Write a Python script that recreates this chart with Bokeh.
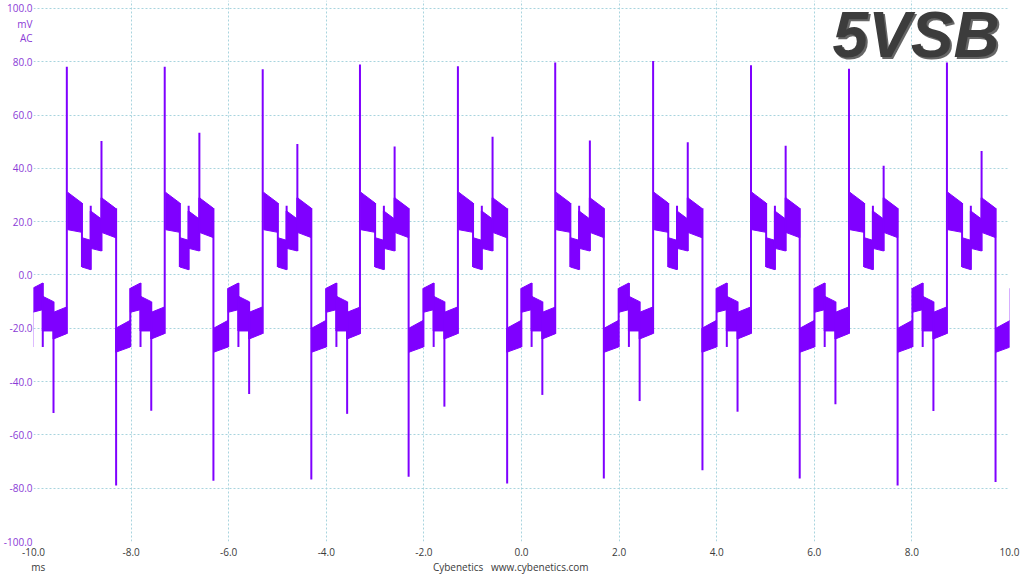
from bokeh.plotting import figure
from bokeh.models import (Range1d, FixedTicker, PrintfTickFormatter, Label, ColumnDataSource,
                          LinearAxis)
from bokeh.embed import file_html
from bokeh.resources import INLINE

# ---------------- data ----------------
x_ticks = [-10, -8, -6, -4, -2, 0, 2, 4, 6, 8, 10]          # ms
y_ticks = [-100, -80, -60, -40, -20, 0, 20, 40, 60, 80, 100]  # mV
y_unit_labels = {94: "mV", 89: "AC"}                          # unit text under the 100.0 tick
footer_labels = {-990: "ms", -22: "Cybenetics\u00a0\u00a0\u00a0www.cybenetics.com"}  # position in 1/100 ms

# start (rising edge) of every switching cycle, ms (first one is before the window)
cycle_start_ms = [-11.32, -9.317, -7.311, -5.303, -3.310, -1.303,
                  0.691, 2.697, 4.703, 6.711, 8.718]

# step plateaus inside one cycle (time after the rising edge, ms) and their noise envelope, mV
seg_start_ms = [0.02, 0.31, 0.49, 0.71, 1.00, 1.30, 1.51, 1.73]
seg_end_ms = [0.31, 0.49, 0.71, 1.00, 1.30, 1.51, 1.73, 2.00]
seg_top_start = [31, 14, 24, 29, -20, -5, -8, -14]
seg_top_end = [27, 13, 21, 25, -17, -3, -10, -12]
seg_bot_start = [17, 3, 10, 16, -29, -14, -21, -24]
seg_bot_end = [16, 2, 9, 14, -27, -13, -21, -22]

# rising-edge spikes (cycles 1..10)
rise_ms = cycle_start_ms[1:]
rise_peak_mv = [78.1, 78.1, 77.2, 79.0, 78.3, 79.7, 80.3, 78.7, 77.4, 79.7]

# falling-edge spikes
fall_ms = [-8.307, -6.313, -4.307, -2.313, -0.294, 1.687, 3.708, 5.701, 7.707, 9.714]
fall_min_mv = [-79.0, -77.2, -76.7, -75.7, -78.2, -76.4, -73.3, -76.4, -79.0, -77.7]

# secondary positive spike (0.71 ms after rise), cycles 1..10
pos_spike_mv = [50.3, 53.4, 49.2, 48.2, 51.9, 50.5, 49.8, 48.5, 41.0, 46.5]
# secondary negative spike (1.73 ms after rise), cycles 0..9
neg_spike_mv = [-51.8, -50.9, -44.7, -52.1, -49.4, -45.0, -47.3, -51.3, -48.5, -51.0]
# small spikes of every cycle
small_pos_ms, small_pos_mv = 0.49, 26
small_neg_ms, small_neg_mv = 1.51, -27
pos_spike_phase_ms = 0.71
neg_spike_phase_ms = 1.73

TRACE = "#7f00ff"
YLAB = "#8a3ad6"
XLAB = "#3a3a3a"
GRID = "#a8d4de"
FONT = "Open Sans"

# the frame reaches the top of the canvas; the 100 mV grid line sits 8 px below it
p = figure(width=1024, height=576, output_backend="svg", toolbar_location=None,
           x_range=Range1d(-10, 10), y_range=Range1d(-100, 103),
           min_border_left=32, min_border_right=15, min_border_top=0, min_border_bottom=34)
p.outline_line_color = None
p.background_fill_color = "white"
p.border_fill_color = "white"

# grid
p.xgrid.ticker = FixedTicker(ticks=x_ticks)
p.ygrid.ticker = FixedTicker(ticks=y_ticks)
for g in (p.xgrid, p.ygrid):
    g.grid_line_color = GRID
    g.grid_line_dash = "2 2"
    g.grid_line_width = 1

# axes
p.xaxis.ticker = FixedTicker(ticks=x_ticks)
p.yaxis.ticker = FixedTicker(ticks=y_ticks + list(y_unit_labels.keys()))
p.xaxis.formatter = PrintfTickFormatter(format="%.1f")
p.yaxis.formatter = PrintfTickFormatter(format="%.1f")
p.yaxis.major_label_overrides = y_unit_labels

p.extra_x_ranges = {"footer": Range1d(-1000, 1000)}
footer = LinearAxis(x_range_name="footer", ticker=FixedTicker(ticks=list(footer_labels.keys())),
                    major_label_overrides=footer_labels)
p.add_layout(footer, "below")

for ax in (p.xaxis + p.yaxis):
    ax.axis_line_color = None
    ax.major_tick_line_color = None
    ax.minor_tick_line_color = None
    ax.major_tick_out = 0
    ax.major_tick_in = 0
    ax.minor_tick_out = 0
    ax.minor_tick_in = 0
    ax.major_label_text_font = FONT
    ax.major_label_text_font_size = "10px"
for ax in p.xaxis:
    ax.major_label_text_color = XLAB
p.yaxis.major_label_text_color = YLAB
p.xaxis[0].major_label_standoff = 6
footer.major_label_standoff = 1
p.yaxis.major_label_standoff = 1

# plateau bands
xs, ys = [], []
for t0 in cycle_start_ms:
    for k in range(len(seg_start_ms)):
        xa, xb = t0 + seg_start_ms[k], t0 + seg_end_ms[k]
        xs.append([xa, xb, xb, xa])
        ys.append([seg_top_start[k], seg_top_end[k], seg_bot_end[k], seg_bot_start[k]])
p.patches(xs, ys, fill_color=TRACE, line_color=TRACE, line_width=1)

# edges, step transitions and spikes
sx, sy0, sy1 = [], [], []
for t, pk in zip(rise_ms, rise_peak_mv):
    sx.append(t); sy0.append(seg_bot_end[7]); sy1.append(pk)
for t, mn in zip(fall_ms, fall_min_mv):
    sx.append(t); sy0.append(seg_top_end[3]); sy1.append(mn)
for t0, v in zip(cycle_start_ms[1:], pos_spike_mv):
    sx.append(t0 + pos_spike_phase_ms); sy0.append(seg_bot_start[3]); sy1.append(v)
for t0, v in zip(cycle_start_ms[:10], neg_spike_mv):
    sx.append(t0 + neg_spike_phase_ms); sy0.append(seg_top_start[7]); sy1.append(v)
for t0 in cycle_start_ms:
    sx.append(t0 + small_pos_ms); sy0.append(seg_bot_start[2]); sy1.append(small_pos_mv)
    sx.append(t0 + small_neg_ms); sy0.append(seg_top_start[6]); sy1.append(small_neg_mv)
    for k in (0, 1, 2, 4, 5, 6):
        sx.append(t0 + seg_end_ms[k])
        sy0.append(min(seg_bot_end[k], seg_bot_start[k + 1]))
        sy1.append(max(seg_top_end[k], seg_top_start[k + 1]))
src = ColumnDataSource(dict(x=sx, y0=sy0, y1=sy1))
p.segment(x0="x", y0="y0", x1="x", y1="y1", source=src, line_color=TRACE, line_width=2)

# big channel name
p.add_layout(Label(x=9.84, y=89.2, text="5VSB", text_align="right", text_baseline="alphabetic",
                   text_font="Liberation Sans", text_font_style="bold italic",
                   text_font_size="64px", text_color="#000000", text_alpha=0.6))
p.add_layout(Label(x=9.80, y=90.0, text="5VSB", text_align="right", text_baseline="alphabetic",
                   text_font="Liberation Sans", text_font_style="bold italic",
                   text_font_size="64px", text_color="#3c3c3c"))

open("out.html", "w").write(file_html(p, INLINE))
